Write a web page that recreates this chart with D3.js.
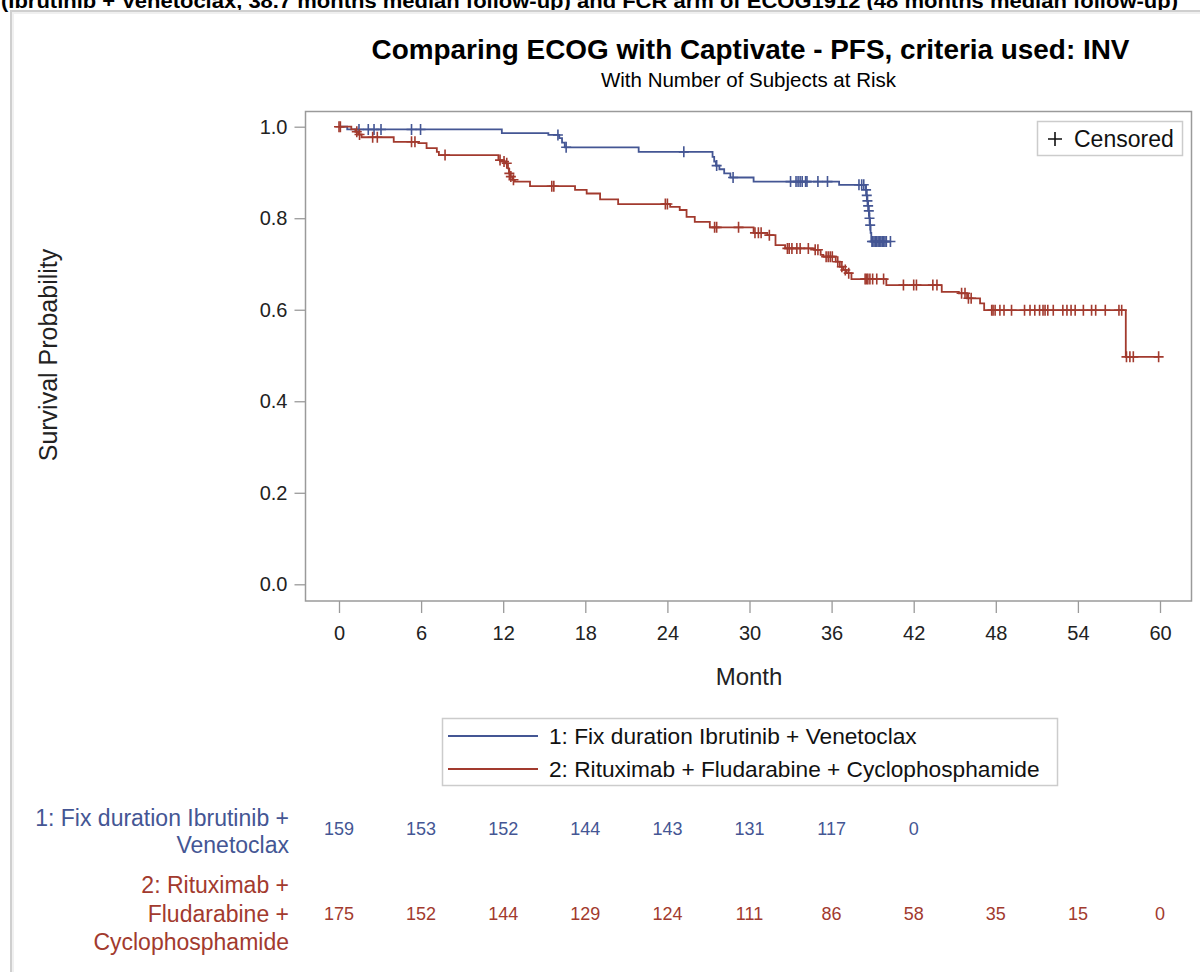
<!DOCTYPE html>
<html>
<head>
<meta charset="utf-8">
<script src="https://cdn.jsdelivr.net/npm/d3@7"></script>
<style>
    body { margin: 0; background: #fff; }
    svg { display: block; font-family: "Liberation Sans", Arial, sans-serif; }
</style>
</head>
<body>
<script>
// ---- data ----
var monthTicks = [0, 6, 12, 18, 24, 30, 36, 42, 48, 54, 60];
var probTicks = [0, 0.2, 0.4, 0.6, 0.8, 1.0];
var groupNames = ['1: Fix duration Ibrutinib + Venetoclax', '2: Rituximab + Fludarabine + Cyclophosphamide'];
var riskLabelLines = [['1: Fix duration Ibrutinib +', 'Venetoclax'], ['2: Rituximab +', 'Fludarabine +', 'Cyclophosphamide']];
var ivAtRisk = [159, 153, 152, 144, 143, 131, 117, 0];
var fcrAtRisk = [175, 152, 144, 129, 124, 111, 86, 58, 35, 15, 0];

// KM steps: [month, survival after the drop]
var ivSteps = [[0, 1], [0.6, 0.994], [11.9, 0.986], [15.3, 0.982], [16.1, 0.975], [16.3, 0.965], [16.5, 0.955],
    [21.9, 0.945], [27.3, 0.934], [27.42, 0.924], [27.55, 0.915], [27.8, 0.907], [28.15, 0.898], [28.6, 0.889],
    [30.3, 0.880], [36.55, 0.873], [38.5, 0.862], [38.55, 0.850], [38.6, 0.838], [38.65, 0.827], [38.7, 0.816],
    [38.75, 0.800], [38.8, 0.785], [38.85, 0.768], [38.9, 0.749]];
var ivCensored = [1.46, 2.14, 2.56, 3.07, 5.3, 5.96, 16.0, 16.6, 25.2, 27.6, 28.8, 33.0, 33.4, 33.55, 33.7, 33.85,
    34.1, 34.2, 35.0, 35.7, 38.0, 38.2, 38.35, 38.52, 38.57, 38.62, 38.67, 38.72, 38.77, 38.82, 38.95, 39.0, 39.1,
    39.2, 39.3, 39.4, 39.5, 39.6, 39.7, 39.8, 39.9, 40.0, 40.3];

var fcrSteps = [[0, 1], [0.9, 0.994], [1.2, 0.989], [1.4, 0.983], [1.65, 0.977], [4.0, 0.967], [5.8, 0.964],
    [6.4, 0.953], [7.15, 0.945], [7.3, 0.938], [11.65, 0.927], [11.95, 0.924], [12.15, 0.920], [12.35, 0.909],
    [12.42, 0.898], [12.52, 0.891], [12.7, 0.884], [12.85, 0.880], [13.96, 0.870], [17.25, 0.862], [18.1, 0.854],
    [19.08, 0.841], [20.4, 0.831], [24.2, 0.825], [24.9, 0.818], [25.4, 0.803], [26.0, 0.792], [27.1, 0.780],
    [30.3, 0.768], [31.3, 0.763], [31.9, 0.741], [32.6, 0.734], [34.75, 0.731], [35.2, 0.720], [35.4, 0.716],
    [36.3, 0.705], [36.6, 0.694], [36.85, 0.687], [37.1, 0.680], [37.45, 0.667], [40.0, 0.654], [44.05, 0.639],
    [45.3, 0.636], [45.9, 0.625], [46.85, 0.614], [47.15, 0.599], [57.5, 0.497]];
var fcrCensored = [0, 0.1, 1.3, 1.5, 2.46, 2.8, 5.3, 5.55, 7.75, 11.77, 12.06, 12.26, 12.45, 12.56, 12.75, 15.55,
    15.7, 23.85, 24.0, 27.45, 27.6, 29.2, 30.4, 30.65, 30.85, 31.45, 32.77, 32.9, 33.1, 33.46, 33.7, 34.3, 34.8,
    35.0, 35.6, 35.75, 35.9, 36.05, 36.45, 36.75, 37.0, 37.25, 38.45, 38.55, 38.65, 38.8, 39.0, 39.3, 39.8, 41.25,
    42.0, 42.2, 43.4, 43.7, 45.5, 45.75, 46.0, 46.2, 47.7, 47.8, 47.95, 48.3, 48.6, 49.15, 50.1, 50.5, 50.85, 51.2,
    51.45, 51.6, 51.8, 52.2, 52.9, 53.2, 53.5, 53.8, 54.4, 55.0, 55.3, 56.0, 57.0, 57.2, 57.55, 57.8, 58.05, 59.9];

var blue = '#445694', red = '#A23A2E';

(function () {
    var W = 1200, H = 972;
    var frame = { left: 305.5, top: 111.5, right: 1191.5, bottom: 601 };

    var svg = d3.select('body').append('svg').attr('width', W).attr('height', H);

    // header text, cut off by the top of the picture as in the source
    svg.append('text')
        .attr('x', 1).attr('y', 8)
        .attr('font-size', 21).attr('font-weight', 'bold').attr('fill', '#000')
        .attr('textLength', 1177).attr('lengthAdjust', 'spacingAndGlyphs')
        .text('(Ibrutinib + Venetoclax, 38.7 months median follow-up) and FCR arm of ECOG1912 (48 months median follow-up)');

    // outer page frame
    svg.append('path').attr('d', `M11,${H} V11 H${W}`)
        .attr('fill', 'none').attr('stroke', '#cfcfcf').attr('stroke-width', 2);
    svg.append('path').attr('d', `M13,${H} V13 H${W}`)
        .attr('fill', 'none').attr('stroke', '#f0f0f0').attr('stroke-width', 2);

    // titles
    svg.append('text').attr('x', 750.5).attr('y', 59).attr('text-anchor', 'middle')
        .attr('font-size', 27.9).attr('font-weight', 'bold').attr('fill', '#000')
        .text('Comparing ECOG with Captivate - PFS, criteria used: INV');
    svg.append('text').attr('x', 748.5).attr('y', 87).attr('text-anchor', 'middle')
        .attr('font-size', 20.5).attr('fill', '#000')
        .text('With Number of Subjects at Risk');

    var x = d3.scaleLinear().domain([0, 60]).range([339, 1160]);
    var y = d3.scaleLinear().domain([0, 1]).range([584.3, 126.7]);

    // axes
    var gy = svg.append('g').attr('transform', `translate(${frame.left},0)`)
        .call(d3.axisLeft(y).tickValues(probTicks).tickFormat(d3.format('.1f')).tickSize(11));
    gy.select('.domain').remove();
    gy.selectAll('line').attr('stroke', '#9a9a9a').attr('stroke-width', 1.3);
    gy.selectAll('text').attr('x', -18).attr('font-size', 20).attr('fill', '#222')
        .attr('font-family', '"Liberation Sans", Arial, sans-serif');

    var gx = svg.append('g').attr('transform', `translate(0,${frame.bottom})`)
        .call(d3.axisBottom(x).tickValues(monthTicks).tickSize(12));
    gx.select('.domain').remove();
    gx.selectAll('line').attr('stroke', '#9a9a9a').attr('stroke-width', 1.3);
    gx.selectAll('text').attr('dy', null).attr('y', 39).attr('font-size', 20).attr('fill', '#222')
        .attr('font-family', '"Liberation Sans", Arial, sans-serif');

    svg.append('rect')
        .attr('x', frame.left).attr('y', frame.top)
        .attr('width', frame.right - frame.left).attr('height', frame.bottom - frame.top)
        .attr('fill', 'none').attr('stroke', '#9a9a9a').attr('stroke-width', 1.5);

    svg.append('text').attr('x', 749).attr('y', 685).attr('text-anchor', 'middle')
        .attr('font-size', 24).attr('fill', '#222').text('Month');
    svg.append('text').attr('transform', 'translate(57,355) rotate(-90)').attr('text-anchor', 'middle')
        .attr('font-size', 25).attr('fill', '#222').text('Survival Probability');

    // KM curves
    function survAt(steps, t) {
        var s = 1;
        steps.forEach(function (p) { if (p[0] <= t) s = p[1]; });
        return s;
    }
    var line = d3.line().x(d => x(d[0])).y(d => y(d[1])).curve(d3.curveStepAfter);
    var series = [
        { steps: ivSteps, cens: ivCensored, color: blue },
        { steps: fcrSteps, cens: fcrCensored, color: red }
    ];
    series.forEach(function (s) {
        var end = d3.max(s.cens);
        var pts = s.steps.concat([[end, s.steps[s.steps.length - 1][1]]]);
        svg.append('path').attr('d', line(pts))
            .attr('fill', 'none').attr('stroke', s.color).attr('stroke-width', 1.8);
        svg.append('g').selectAll('path')
            .data(s.cens)
            .enter()
            .append('path')
            .attr('transform', t => `translate(${x(t)},${y(survAt(s.steps, t))})`)
            .attr('d', 'M-5,0H5M0,-5.5V5.5')
            .attr('stroke', s.color).attr('stroke-width', 1.6).attr('fill', 'none');
    });

    // censored legend (inside plot, top right)
    var lg = svg.append('g');
    lg.append('rect').attr('x', 1037.5).attr('y', 121.5).attr('width', 145).attr('height', 34)
        .attr('fill', '#fff').attr('stroke', '#cccccc').attr('stroke-width', 1.5);
    lg.append('path').attr('d', 'M1048,139H1062M1055,132V146').attr('stroke', '#111').attr('stroke-width', 1.6);
    lg.append('text').attr('x', 1074).attr('y', 147).attr('font-size', 23).attr('fill', '#111').text('Censored');

    // group legend
    var gl = svg.append('g');
    gl.append('rect').attr('x', 442.5).attr('y', 718.5).attr('width', 615).attr('height', 67)
        .attr('fill', '#fff').attr('stroke', '#cccccc').attr('stroke-width', 1.5);
    var legendY = [736, 769];
    groupNames.forEach(function (n, i) {
        var c = i === 0 ? blue : red;
        gl.append('line').attr('x1', 448).attr('x2', 538).attr('y1', legendY[i]).attr('y2', legendY[i])
            .attr('stroke', c).attr('stroke-width', 1.8);
        gl.append('text').attr('x', 549).attr('y', legendY[i] + 8).attr('font-size', 22.7).attr('fill', '#111').text(n);
    });

    // number at risk
    var riskRows = [
        { values: ivAtRisk, color: blue, numY: 835, labelY: [826, 853] },
        { values: fcrAtRisk, color: red, numY: 920, labelY: [893, 921.5, 950] }
    ];
    riskRows.forEach(function (r, i) {
        var g = svg.append('g').attr('fill', r.color);
        riskLabelLines[i].forEach(function (t, j) {
            g.append('text').attr('x', 289).attr('y', r.labelY[j]).attr('text-anchor', 'end')
                .attr('font-size', 23).text(t);
        });
        g.selectAll('text.num')
            .data(r.values)
            .enter()
            .append('text')
            .attr('class', 'num')
            .attr('x', (d, k) => x(monthTicks[k]))
            .attr('y', r.numY)
            .attr('text-anchor', 'middle')
            .attr('font-size', 18)
            .text(d => d);
    });
})();
</script>
</body>
</html>
